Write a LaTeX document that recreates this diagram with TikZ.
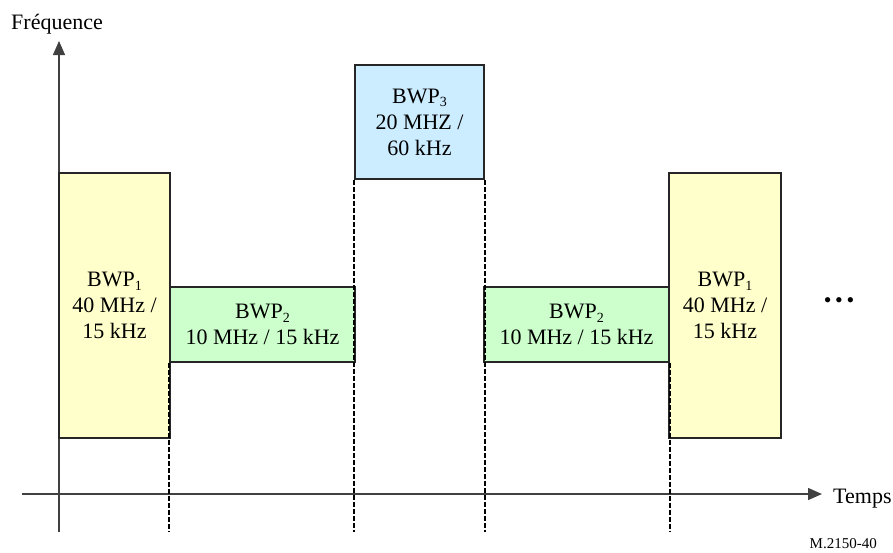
\documentclass[tikz,border=0pt]{standalone}
\usepackage{fontspec}
\setmainfont{Liberation Serif}
\usepackage{tikz}
\usetikzlibrary{arrows.meta}
\usepackage{xcolor}
\definecolor{bwpyel}{HTML}{FFFFCC}
\definecolor{bwpgrn}{HTML}{CCFFCC}
\definecolor{bwpblu}{HTML}{CCECFF}
\newcommand{\bwp}[1]{BWP\raisebox{-0.35ex}{\fontsize{14}{14}\selectfont#1}}

\begin{document}
\begin{tikzpicture}[
  x=1pt, y=-1pt,
  box/.style={draw=black!85, line width=1.3pt, inner sep=0pt, align=center, font=\fontsize{22}{26}\selectfont},
  ax/.style={draw=black!75, line width=1.4pt},
  arr/.style={ax, -{Triangle[length=14pt, width=12pt]}},
  sep/.style={black, line width=1.9pt, dash pattern=on 5pt off 2pt},
  lbl/.style={font=\fontsize{22}{26}\selectfont, inner sep=0pt}
]
\useasboundingbox (0,0) rectangle (893,552);

% axes
\coordinate (ybot) at (59,532);
\coordinate (ytop) at (59,41);
\coordinate (xl) at (22,494);
\coordinate (xr) at (822,494);
\draw[arr] (ybot) -- (ytop);
\draw[arr] (xl) -- (xr);
\node[lbl, anchor=base west] (freq) at (11,29) {Fréquence};
\node[lbl, anchor=base west] (temps) at (833,503) {Temps};

% bandwidth parts
\node[box, fill=bwpyel, minimum width=111pt, minimum height=265pt] (bwpA) at (114.5,305.5) {\bwp{1}\\40 MHz /\\15 kHz};
\node[box, fill=bwpgrn, minimum width=185pt, minimum height=75pt] (bwpB) at (262.5,324.5) {\bwp{2}\\10 MHz / 15 kHz};
\node[box, fill=bwpblu, minimum width=129pt, minimum height=114pt] (bwpC) at (419.5,122) {\bwp{3}\\20 MHZ /\\60 kHz};
\node[box, fill=bwpgrn, minimum width=185pt, minimum height=75pt] (bwpD) at (576.5,324.5) {\bwp{2}\\10 MHz / 15 kHz};
\node[box, fill=bwpyel, minimum width=112pt, minimum height=265pt] (bwpE) at (725,305.5) {\bwp{1}\\40 MHz /\\15 kHz};

\node[lbl] (more) at (839,303) {\textbullet\,\textbullet\,\textbullet};

% switching instants
\draw[sep] (bwpB.south west) -- (bwpB.south west |- ybot);
\draw[sep] (bwpC.south west) -- (bwpC.south west |- ybot);
\draw[sep] (bwpC.south east) -- (bwpC.south east |- ybot);
\draw[sep] (bwpD.south east) -- (bwpD.south east |- ybot);

\node[font=\fontsize{15}{15}\selectfont, inner sep=0pt, anchor=base east] (fig) at (877,548) {M.2150-40};
\end{tikzpicture}
\end{document}
